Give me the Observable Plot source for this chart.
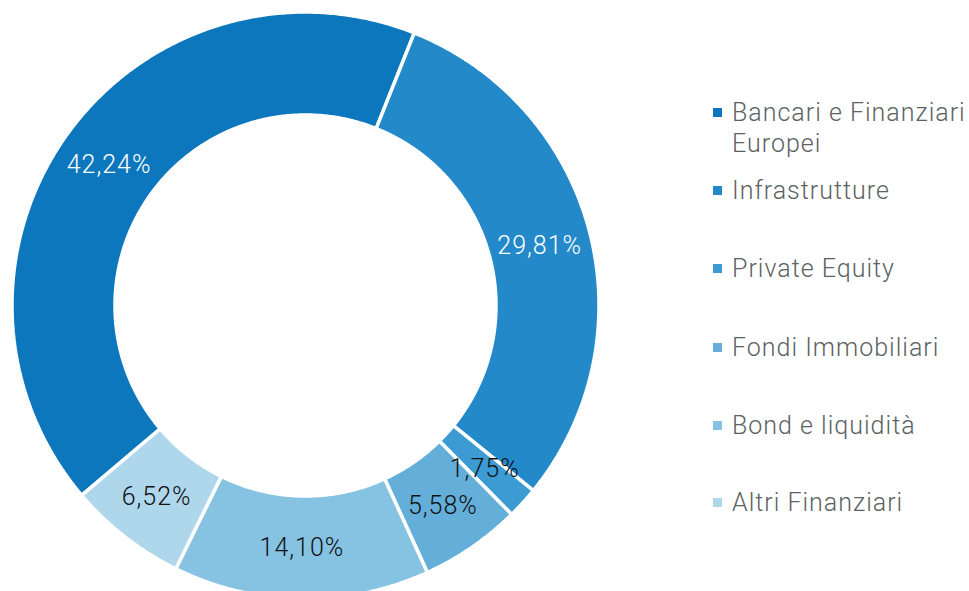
<!DOCTYPE html>
<html>
<head>
<meta charset="utf-8">
<script src="https://cdn.jsdelivr.net/npm/d3@7"></script>
<script src="https://cdn.jsdelivr.net/npm/@observablehq/plot@0.6"></script>
<style>
  html, body { margin: 0; padding: 0; background: #fff; }
  #wrap { position: relative; width: 969px; height: 591px; overflow: hidden; }
  #chart svg { display: block; }
  #legend { position: absolute; left: 713px; top: 0; font-family: Roboto, "Noto Sans", sans-serif; font-weight: 300; font-size: 25px; letter-spacing: 1px; color: #5b6261; }
  .item { position: absolute; left: 0; white-space: nowrap; line-height: 31px; }
  .sw { position: absolute; left: 0; top: 11px; width: 9px; height: 9px; }
  .lab { position: absolute; left: 19px; top: 0; }
</style>
</head>
<body>
<div id="wrap">
  <div id="chart"></div>
  <div id="legend"></div>
</div>
<script>
const categories = ["Bancari e Finanziari Europei", "Infrastrutture", "Private Equity", "Fondi Immobiliari", "Bond e liquidità", "Altri Finanziari"];
const values = [42.24, 29.81, 1.75, 5.58, 14.10, 6.52];
const valueLabels = ["42,24%", "29,81%", "1,75%", "5,58%", "14,10%", "6,52%"];
const colors = ["#0d77bd", "#2389c9", "#3b9bd2", "#64afda", "#86c3e3", "#afd7eb"];
const labelColors = ["#ffffff", "#ffffff", "#111111", "#111111", "#111111", "#111111"];
const legendTops = [97, 175, 253, 332, 410, 487];

const W = 969, H = 591;
const cx = 305, cy = 305, R = 292, Rin = 192;
const outerR = 1 + 1.5 / R, innerR = (Rin - 1.5) / R;
const startDeg = -130.3;

const pie = d3.pie().sort(null).value(d => d)
  .startAngle(startDeg * Math.PI / 180)
  .endAngle(startDeg * Math.PI / 180 + 2 * Math.PI);
const arcs = pie(values);

const ringPts = [];
const labelPts = [];
arcs.forEach((a, i) => {
  const n = Math.max(4, Math.ceil((a.endAngle - a.startAngle) * 120));
  const pts = [];
  for (let k = 0; k <= n; k++) {
    const t = a.startAngle + (a.endAngle - a.startAngle) * k / n;
    pts.push({x: outerR * Math.sin(t), y: outerR * Math.cos(t)});
  }
  for (let k = n; k >= 0; k--) {
    const t = a.startAngle + (a.endAngle - a.startAngle) * k / n;
    pts.push({x: innerR * Math.sin(t), y: innerR * Math.cos(t)});
  }
  pts.push(pts[0]);
  pts.forEach(p => ringPts.push({...p, name: categories[i]}));
  const mid = (a.startAngle + a.endAngle) / 2;
  const rm = (1 + Rin / R) / 2;
  labelPts.push({x: rm * Math.sin(mid), y: rm * Math.cos(mid), text: valueLabels[i], color: labelColors[i]});
});

const plot = Plot.plot({
  width: W, height: H,
  margin: 0,
  x: {domain: [-cx / R, (W - cx) / R], axis: null},
  y: {domain: [-(H - cy) / R, cy / R], axis: null},
  color: {domain: categories, range: colors},
  style: {background: "#fff", letterSpacing: "1px"},
  marks: [
    Plot.line(ringPts, {x: "x", y: "y", z: "name", fill: "name", stroke: "#ffffff", strokeWidth: 3.5, strokeLinejoin: "miter", curve: "linear"}),
    Plot.text(labelPts, {x: "x", y: "y", text: "text", fill: "color", dy: 1, fontSize: 25, fontWeight: 300, fontFamily: "Roboto, sans-serif"})
  ]
});
document.getElementById("chart").appendChild(plot);

const legend = document.getElementById("legend");
categories.forEach((c, i) => {
  const item = document.createElement("div");
  item.className = "item";
  item.style.top = legendTops[i] + "px";
  const sw = document.createElement("div");
  sw.className = "sw";
  sw.style.background = colors[i];
  const lab = document.createElement("div");
  lab.className = "lab";
  if (i === 0) { lab.innerHTML = "Bancari e Finanziari<br>Europei"; } else { lab.textContent = c; }
  item.appendChild(sw); item.appendChild(lab);
  legend.appendChild(item);
});
</script>
</body>
</html>
